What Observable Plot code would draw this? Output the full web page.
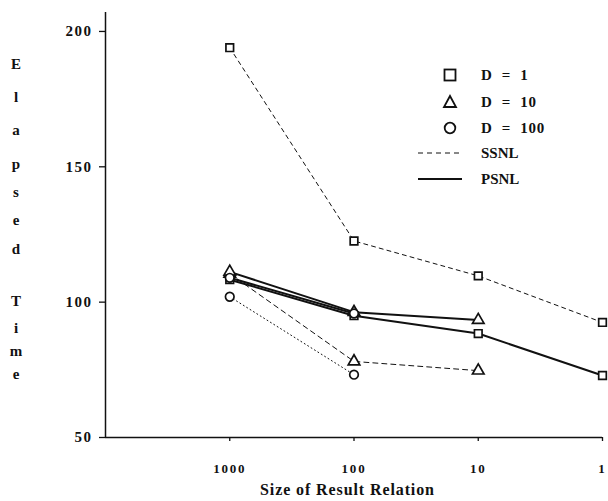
<!DOCTYPE html>
<html>
<head>
<meta charset="utf-8">
<script src="https://cdn.jsdelivr.net/npm/d3@7"></script>
<script src="https://cdn.jsdelivr.net/npm/@observablehq/plot@0.6"></script>
<style>
  html, body { margin: 0; padding: 0; background: #fff; }
  #wrap { position: relative; width: 608px; height: 501px; font-family: "Liberation Serif", "DejaVu Serif", serif; font-weight: bold; color: #111; }
  #ylab { position: absolute; left: 0; top: 0; width: 34px; }
  #ylab span { position: absolute; left: 0; width: 32px; text-align: center; font-size: 15px; transform: translateY(-50%); }
  #xlab { position: absolute; left: 260px; top: 481px; font-size: 16px; letter-spacing: 0.9px; white-space: nowrap; }
  #legend { position: absolute; left: 0; top: 0; }
</style>
</head>
<body>
<div id="wrap"></div>
<script>
// ---- data ----
const sizes = [1000, 100, 10, 1];
const ssnlD1   = [194, 122.6, 109.7, 92.5];
const ssnlD10  = [110.5, 78.1, 74.7];
const ssnlD100 = [102, 73.2];
const psnlD1   = [108.3, 95.0, 88.4, 72.9];
const psnlD10  = [111.2, 96.3, 93.4];
const psnlD100 = [109.0, 95.8];
const xTicks = [1000, 100, 10, 1];
const yTicks = [50, 100, 150, 200];
const legendLabels = ["D = 1", "D = 10", "D = 100", "SSNL", "PSNL"];
const yTitle = "Elapsed Time";
const xTitle = "Size of Result Relation";

function rows(values, algo, D) {
  return values.map((v, i) => ({size: sizes[i], time: v, algo, D}));
}
const sD1 = rows(ssnlD1, "SSNL", 1), sD10 = rows(ssnlD10, "SSNL", 10), sD100 = rows(ssnlD100, "SSNL", 100);
const pD1 = rows(psnlD1, "PSNL", 1), pD10 = rows(psnlD10, "PSNL", 10), pD100 = rows(psnlD100, "PSNL", 100);
const all = [...sD1, ...sD10, ...sD100, ...pD1, ...pD10, ...pD100];
const sym = {1: "square", 10: "triangle", 100: "circle"};

const chart = Plot.plot({
  width: 608,
  height: 501,
  marginLeft: 105,
  marginRight: 6,
  marginTop: 12,
  marginBottom: 64,
  style: {fontFamily: "Liberation Serif", fontSize: "13px", fontWeight: "bold", color: "#111", background: "white"},
  x: {type: "log", domain: [10000, 1]},
  y: {domain: [50, 207]},
  marks: [
    Plot.ruleX([10000], {stroke: "#111", strokeWidth: 1.5}),
    Plot.ruleY([50], {stroke: "#111", strokeWidth: 1.5}),
    Plot.axisY({ticks: yTicks, tickSize: 6, tickPadding: 7, fontSize: 15, label: null, tickFormat: d => String(d), stroke: "#111", strokeWidth: 1.3}),
    Plot.axisX({ticks: xTicks, tickSize: 4, tickPadding: 22, fontSize: 13, label: null, tickFormat: d => String(d), stroke: "#111", strokeWidth: 1.3}),
    Plot.line(sD1, {x: "size", y: "time", stroke: "#111", strokeWidth: 1, strokeDasharray: "4,4"}),
    Plot.line(sD10, {x: "size", y: "time", stroke: "#111", strokeWidth: 1, strokeDasharray: "5,4"}),
    Plot.line(sD100, {x: "size", y: "time", stroke: "#111", strokeWidth: 1, strokeDasharray: "1,3"}),
    Plot.line(pD1, {x: "size", y: "time", stroke: "#111", strokeWidth: 2}),
    Plot.line(pD10, {x: "size", y: "time", stroke: "#111", strokeWidth: 2}),
    Plot.line(pD100, {x: "size", y: "time", stroke: "#111", strokeWidth: 2}),
    Plot.dot(all, {x: "size", y: "time", symbol: d => sym[d.D], r: 4.3, fill: "white", stroke: "#111", strokeWidth: 1.7})
  ]
});

// letter spacing on tick labels (scanned font look)
d3.select(chart).selectAll('g[aria-label="y-axis tick label"] text').style("letter-spacing", "1.5px");
d3.select(chart).selectAll('g[aria-label="x-axis tick label"] text').style("letter-spacing", "1.8px");

const wrap = document.getElementById("wrap");
wrap.appendChild(chart);

// y title: stacked letters
const ylab = document.createElement("div");
ylab.id = "ylab";
const letterY = [64, 97, 130, 164, 192, 220, 249, null, 301, 328, 351, 374];
[...yTitle].forEach((ch, i) => {
  if (ch === " ") return;
  const s = document.createElement("span");
  s.textContent = ch;
  s.style.top = letterY[i] + "px";
  ylab.appendChild(s);
});
wrap.appendChild(ylab);

// x title
const xlab = document.createElement("div");
xlab.id = "xlab";
xlab.textContent = xTitle;
wrap.appendChild(xlab);

// legend overlay
const ns = "http://www.w3.org/2000/svg";
const lg = document.createElementNS(ns, "svg");
lg.setAttribute("id", "legend");
lg.setAttribute("width", 608);
lg.setAttribute("height", 501);
const rowY = [75, 102, 128, 153, 179];
function el(tag, attrs) {
  const e = document.createElementNS(ns, tag);
  for (const k in attrs) e.setAttribute(k, attrs[k]);
  lg.appendChild(e);
  return e;
}
const mx = 450;
el("rect", {x: mx - 5.5, y: rowY[0] - 5.5, width: 11, height: 11, fill: "white", stroke: "#111", "stroke-width": 1.8});
el("path", {d: `M${mx},${rowY[1] - 6}L${mx + 6},${rowY[1] + 5}L${mx - 6},${rowY[1] + 5}Z`, fill: "white", stroke: "#111", "stroke-width": 1.8});
el("circle", {cx: mx, cy: rowY[2], r: 5.3, fill: "white", stroke: "#111", "stroke-width": 1.8});
el("line", {x1: 418, x2: 461, y1: rowY[3], y2: rowY[3], stroke: "#111", "stroke-width": 1, "stroke-dasharray": "5,4"});
el("line", {x1: 418, x2: 462, y1: rowY[4], y2: rowY[4], stroke: "#111", "stroke-width": 2});
legendLabels.forEach((t, i) => {
  const tx = el("text", {x: 481, y: rowY[i], dy: "0.35em", "font-family": "Liberation Serif", "font-size": 15, "font-weight": "bold", fill: "#111", "letter-spacing": i < 3 ? 0.8 : 0});
  tx.textContent = t.replace(/ = /, "  =  ");
  tx.setAttribute("xml:space", "preserve");
  tx.style.whiteSpace = "pre";
});
wrap.appendChild(lg);
</script>
</body>
</html>
